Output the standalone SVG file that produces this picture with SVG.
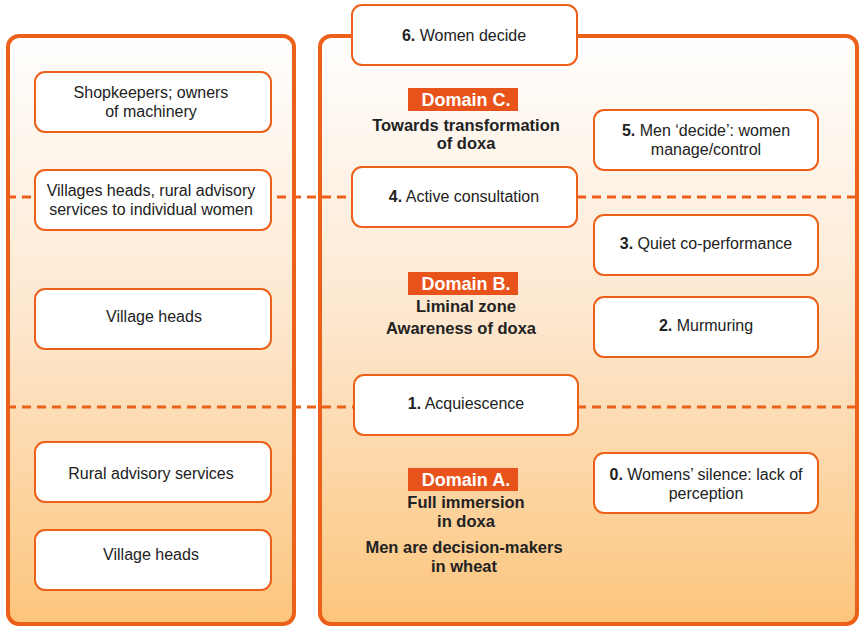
<svg xmlns="http://www.w3.org/2000/svg" width="859" height="627" viewBox="0 0 859 627">
<style>
.panel{stroke:#ec6019;stroke-width:4;fill:url(#g)}
.box{fill:#fff;stroke:#ec6019;stroke-width:2}
.dash{stroke:#ec6019;stroke-width:3;stroke-dasharray:9 6;fill:none}
.t{font-family:"Liberation Sans",Arial,sans-serif;font-size:16px;fill:#222;text-anchor:middle}
.b{font-weight:bold}
.dl{fill:#e8531c}
.dt{font-family:"Liberation Sans",Arial,sans-serif;font-size:18px;font-weight:bold;fill:#fff;text-anchor:middle}
.h{font-family:"Liberation Sans",Arial,sans-serif;font-size:16.5px;font-weight:bold;fill:#222;text-anchor:middle}
</style>
<defs>
<linearGradient id="g" x1="0" y1="35" x2="0" y2="625" gradientUnits="userSpaceOnUse">
<stop offset="0" stop-color="#ffffff"/>
<stop offset="0.5" stop-color="#fde6cc"/>
<stop offset="1" stop-color="#fcc57c"/>
</linearGradient>
</defs>
<rect width="859" height="627" fill="#fff"/>
<g id="left-panel"><rect class="panel" x="8" y="36" width="286" height="588" rx="11"/></g>
<g id="right-panel"><rect class="panel" x="320" y="36" width="537" height="588" rx="11"/></g>
<g id="connectors">
<line class="dash" x1="7" y1="197" x2="859" y2="197"/>
<line class="dash" x1="7" y1="407" x2="859" y2="407"/>
</g>
<g id="l1"><rect class="box" x="35" y="72" width="236" height="60" rx="10"/><text class="t" x="151" y="98">Shopkeepers; owners</text><text class="t" x="151" y="117">of machinery</text></g>
<g id="l2"><rect class="box" x="35" y="170" width="236" height="60" rx="10"/><text class="t" x="151" y="196">Villages heads, rural advisory</text><text class="t" x="151" y="215">services to individual women</text></g>
<g id="l3"><rect class="box" x="35" y="289" width="236" height="60" rx="10"/><text class="t" x="154" y="322">Village heads</text></g>
<g id="l4"><rect class="box" x="35" y="442" width="236" height="60" rx="10"/><text class="t" x="151" y="479">Rural advisory services</text></g>
<g id="l5"><rect class="box" x="35" y="530" width="236" height="60" rx="10"/><text class="t" x="151" y="560">Village heads</text></g>
<g id="n6"><rect class="box" x="352" y="5" width="225" height="60" rx="10"/><text class="t" x="464" y="41"><tspan class="b">6.</tspan> Women decide</text></g>
<g id="n4"><rect class="box" x="352" y="167" width="225" height="60" rx="10"/><text class="t" x="464" y="202"><tspan class="b">4.</tspan> Active consultation</text></g>
<g id="n1"><rect class="box" x="354" y="375" width="224" height="60" rx="10"/><text class="t" x="466" y="409"><tspan class="b">1.</tspan> Acquiescence</text></g>
<g id="n5"><rect class="box" x="594" y="110" width="224" height="60" rx="10"/><text class="t" x="706" y="136"><tspan class="b">5.</tspan> Men ‘decide’: women</text><text class="t" x="706" y="155">manage/control</text></g>
<g id="n3"><rect class="box" x="594" y="215" width="224" height="60" rx="10"/><text class="t" x="706" y="249"><tspan class="b">3.</tspan> Quiet co-performance</text></g>
<g id="n2"><rect class="box" x="594" y="297" width="224" height="60" rx="10"/><text class="t" x="706" y="331"><tspan class="b">2.</tspan> Murmuring</text></g>
<g id="n0"><rect class="box" x="594" y="453" width="224" height="60" rx="10"/><text class="t" x="706" y="480"><tspan class="b">0.</tspan> Womens’ silence: lack of</text><text class="t" x="706" y="499">perception</text></g>
<g id="domC"><rect class="dl" x="408" y="88" width="110" height="23"/><text class="dt" x="466" y="106">Domain C.</text><text class="h" x="466" y="131">Towards transformation</text><text class="h" x="466" y="149">of doxa</text></g>
<g id="domB"><rect class="dl" x="408" y="272" width="110" height="23"/><text class="dt" x="466" y="290">Domain B.</text><text class="h" x="466" y="312">Liminal zone</text><text class="h" x="461" y="334">Awareness of doxa</text></g>
<g id="domA"><rect class="dl" x="408" y="468" width="110" height="23"/><text class="dt" x="466" y="486">Domain A.</text><text class="h" x="466" y="508">Full immersion</text><text class="h" x="466" y="527">in doxa</text><text class="h" x="464" y="553">Men are decision-makers</text><text class="h" x="464" y="572">in wheat</text></g>
</svg>
